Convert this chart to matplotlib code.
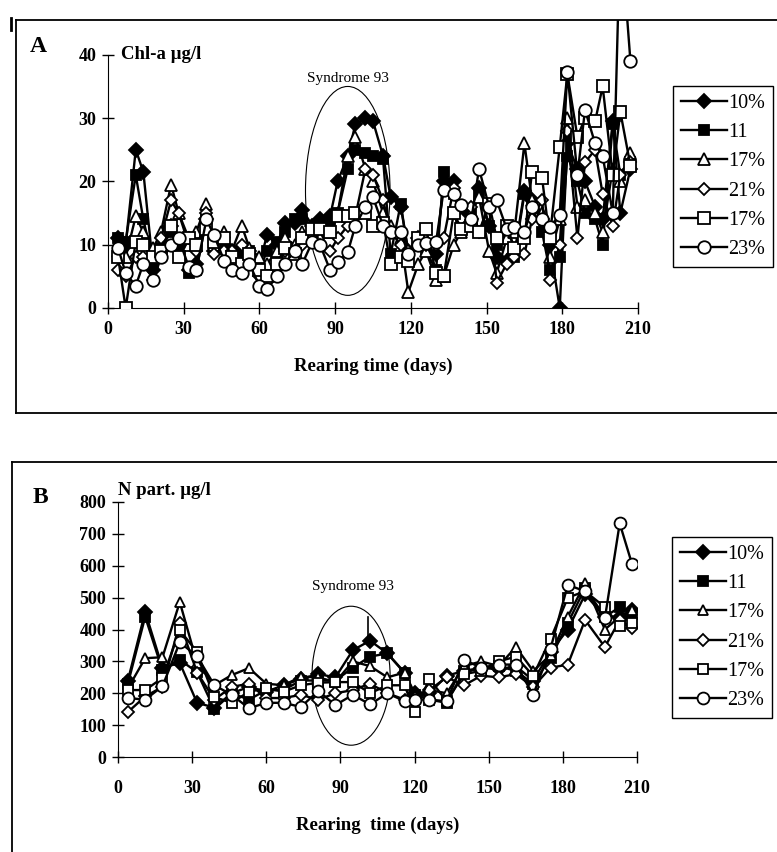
import matplotlib
matplotlib.use("Agg")
import matplotlib.pyplot as plt
from matplotlib.lines import Line2D
from matplotlib.patches import Ellipse

plt.rcParams["font.family"] = ["Liberation Serif", "DejaVu Serif"]

# ---- data, panel A (Chl-a, ug/l) ----
days_a = [4, 7, 11, 14, 18, 21, 25, 28, 32, 35,
          39, 42, 46, 49, 53, 56, 60, 63, 67, 70,
          74, 77, 81, 84, 88, 91, 95, 98, 102, 105,
          109, 112, 116, 119, 123, 126, 130, 133, 137, 140,
          144, 147, 151, 154, 158, 161, 165, 168, 172, 175,
          179, 182, 186, 189, 193, 196, 200, 203, 207]

chla_10 = [11, 10, 25, 21.5, 6, 9, 13, 10, 6, 7,
           14, 9, 10, 9, 8, 9, 7, 11.5, 10, 13.5,
           13.5, 15.5, 13, 14, 14.5, 20, 24, 29, 30, 29.5,
           24, 17.5, 16, 9, 11, 10, 8.5, 20, 20, 15,
           14, 19, 13, 8, 7.5, 8.5, 18.5, 17, 14, 10,
           0, 26, 22, 20, 16, 14, 29.5, 15, 22]
chla_11 = [11, 10.5, 21, 14, 7, 9.5, 12, 9, 5.5, 6,
           14, 10, 10, 9, 8.5, 9, 6, 9, 10.5, 12,
           14, 14, 12.5, 13.5, 13.5, 15, 22, 25, 24.5, 24,
           23.5, 8.5, 16.5, 8.5, 11, 9, 6, 21.5, 18, 14,
           15, 18, 13, 10, 12, 8, 18, 16, 12, 6,
           8, 24, 20, 15, 14, 10, 29, 21, 23]
chla_17t = [9, 8, 14.5, 12, 9.5, 12, 19.5, 15, 10, 12,
            16.5, 10, 12, 9, 13, 9.5, 8, 7, 9, 11,
            10, 12, 12, 11, 12, 15, 24, 27, 22, 20,
            15, 13, 11, 2.5, 7, 9, 4.5, 5, 10, 12,
            15, 17.5, 9, 5.5, 11, 12, 26, 17, 15, 8,
            14, 30, 16, 17, 15, 12, 22, 20, 24.5]
chla_21 = [6, 5, 8, 8, 4.5, 11, 17, 15, 11, 9,
           15, 8.5, 9, 9, 10, 8, 5, 5, 7, 9,
           9, 10, 11, 10, 9, 11, 13, 14.5, 22, 21,
           17, 12, 10, 9, 10, 10, 10, 11, 19, 14,
           16, 12, 16, 4, 7, 8, 8.5, 14, 17, 4.5,
           10, 28, 11, 23, 25, 18, 13, 21, 23]
chla_17s = [8, 0, 10.5, 10, 8, 9, 13, 8, 11, 10,
            12.5, 10.5, 11, 8, 7, 8.5, 6, 5, 7, 9.5,
            8.5, 11, 12.5, 12.5, 12, 14.5, 14.5, 15, 15, 13,
            13.5, 7, 8, 7.5, 11, 12.5, 5.5, 5, 15, 12.5,
            13, 12, 16.5, 11, 13, 9.5, 11, 21.5, 20.5, 11,
            25.5, 37, 27, 30, 29.5, 35, 21, 31, 22.5]
chla_23 = [9.5, 5.5, 3.5, 7, 4.5, 8, 10, 11, 6.5, 6,
           14, 11.5, 7.5, 6, 5.5, 7, 3.5, 3, 5, 7,
           9, 7, 10.5, 10, 6, 7.3, 8.8, 13, 16, 17.5,
           13, 12, 12, 8.5, 10, 10.3, 10.5, 18.6, 18, 16.3,
           14, 22, 16, 17, 12.5, 12.8, 12, 16, 14, 12.8,
           14.7, 37.3, 21, 31.3, 26, 24, 15, 60, 39]

# ---- data, panel B (N part., ug/l) ----
days_b = [4, 11, 18, 25, 32, 39, 46, 53, 60, 67,
          74, 81, 88, 95, 102, 109, 116, 120, 126, 133,
          140, 147, 154, 161, 168, 175, 182, 189, 197, 203, 208]

npart_10 = [240, 455, 280, 295, 170, 155, 200, 220, 205, 225,
            245, 260, 250, 335, 365, 325, 265, 200, 200, 255,
            270, 280, 275, 285, 240, 330, 400, 510, 440, 440, 460]
npart_11 = [230, 440, 272, 305, 266, 150, 200, 180, 210, 210,
            240, 240, 240, 280, 315, 325, 263, 195, 180, 170,
            270, 275, 285, 270, 230, 310, 420, 530, 440, 470, 450]
npart_17t = [215, 310, 313, 486, 295, 225, 257, 279, 230, 225,
             252, 250, 235, 300, 285, 250, 265, 190, 210, 200,
             285, 300, 285, 345, 270, 320, 440, 545, 400, 440, 460]
npart_21 = [141, 190, 220, 420, 265, 180, 220, 230, 185, 185,
            195, 180, 200, 210, 230, 200, 180, 185, 210, 250,
            225, 255, 250, 260, 220, 280, 290, 430, 345, 430, 405]
npart_17s = [210, 210, 248, 398, 329, 188, 170, 205, 215, 205,
             225, 233, 235, 235, 200, 225, 225, 140, 245, 175,
             260, 270, 300, 315, 255, 370, 500, 520, 470, 410, 420]
npart_23 = [185, 180, 222, 360, 316, 225, 195, 153, 170, 170,
            157, 207, 163, 195, 165, 200, 175, 180, 180, 175,
            305, 280, 290, 290, 195, 340, 540, 520, 435, 733, 605]

# the single vertical bar drawn in panel B
spike_day = 101
spike_range = [365, 440]

labels = ["10%", "11", "17%", "21%", "17%", "23%"]
# marker, filled?, size
styles = [("D", True, 7), ("s", True, 7.5), ("^", False, 8),
          ("D", False, 6), ("s", False, 8), ("o", False, 9)]

fig = plt.figure(figsize=(7.77, 8.52), dpi=100)


def draw_series(ax, x, series, scale=1.0):
    for ys, lab, (m, filled, ms) in zip(series, labels, styles):
        ax.plot(x, ys, color="black", lw=1.7, marker=m, ms=ms * scale,
                mfc="black" if filled else "white", mec="black", mew=1.3,
                label=lab, zorder=3)


def style_axes(ax, ymax):
    for s in ["top", "right"]:
        ax.spines[s].set_visible(False)
    ax.spines["left"].set_bounds(0, ymax)
    ax.spines["bottom"].set_bounds(0, 210)
    ax.tick_params(direction="inout", length=9, width=1, labelsize=13)
    for t in ax.get_yticklabels() + ax.get_xticklabels():
        t.set_fontweight("bold")


def add_legend(ax, x0, y1):
    leg = ax.legend(loc="upper left", bbox_to_anchor=(x0, y1),
                    bbox_transform=fig.transFigure, fontsize=14.5,
                    handlelength=2.3, handletextpad=0.05, labelspacing=0.5,
                    borderpad=0.4, borderaxespad=0, fancybox=False,
                    framealpha=1, edgecolor="black")
    leg.get_frame().set_linewidth(1.0)


# ---------------- panel A ----------------
axA = fig.add_axes([108 / 777, 544 / 852, 530 / 777, 288 / 852])
draw_series(axA, days_a, [chla_10, chla_11, chla_17t, chla_21, chla_17s, chla_23])
axA.set_xlim(0, 210)
axA.set_ylim(0, 45.5)
axA.set_xticks(range(0, 211, 30))
axA.set_yticks(range(0, 41, 10))
style_axes(axA, 40)
axA.tick_params(axis="y", pad=4)
axA.tick_params(axis="x", pad=5)
axA.set_xlabel("Rearing time (days)", fontsize=13.5, fontweight="bold", labelpad=14)
axA.add_patch(Ellipse((95, 18.5), 33.5, 33, fill=False, lw=0.8, color="black"))
axA.text(95, 36.2, "Syndrome 93", ha="center", va="center", fontsize=11)
axA.text(5, 40, "Chl-a \u00b5g/l", ha="left", va="center", fontsize=13.5,
         fontweight="bold")
add_legend(axA, 673 / 777, 766 / 852)

# ---------------- panel B ----------------
axB = fig.add_axes([118 / 777, 95 / 852, 519 / 777, 255 / 852])
draw_series(axB, days_b, [npart_10, npart_11, npart_17t, npart_21, npart_17s, npart_23],
            scale=0.95)
axB.plot([spike_day, spike_day], spike_range, color="black", lw=1.2, zorder=3)
axB.set_xlim(0, 210)
axB.set_ylim(0, 800)
axB.set_xticks(range(0, 211, 30))
axB.set_yticks(range(0, 801, 100))
style_axes(axB, 800)
axB.tick_params(axis="y", pad=4)
axB.tick_params(axis="x", pad=12)
axB.set_xlabel("Rearing  time (days)", fontsize=13.5, fontweight="bold", labelpad=14)
axB.add_patch(Ellipse((94.3, 255), 31.6, 436, fill=False, lw=0.8, color="black"))
axB.text(95, 535, "Syndrome 93", ha="center", va="center", fontsize=11)
axB.text(0, 808, "N part. \u00b5g/l", ha="left", va="bottom", fontsize=13.5,
         fontweight="bold")
add_legend(axB, 672 / 777, 315 / 852)

# panel letters
fig.text(38 / 777, 1 - 46 / 852, "A", fontsize=17, fontweight="bold",
         ha="center", va="center")
fig.text(40 / 777, 1 - 497 / 852, "B", fontsize=17, fontweight="bold",
         ha="center", va="center")

# panel frames
fr = dict(color="black", lw=1.3, transform=fig.transFigure)
fig.add_artist(Line2D([16 / 777, 1.0], [1 - 20 / 852] * 2, **fr))
fig.add_artist(Line2D([16 / 777] * 2, [1 - 20 / 852, 1 - 413 / 852], **fr))
fig.add_artist(Line2D([16 / 777, 1.0], [1 - 413 / 852] * 2, **fr))
fig.add_artist(Line2D([12 / 777, 1.0], [1 - 462 / 852] * 2, **fr))
fig.add_artist(Line2D([12 / 777] * 2, [1 - 462 / 852, 0.0], **fr))
fig.add_artist(Line2D([11 / 777] * 2, [1 - 18 / 852, 1 - 30 / 852],
                      color="black", lw=2, transform=fig.transFigure))

fig.savefig("out.png", dpi=100)
